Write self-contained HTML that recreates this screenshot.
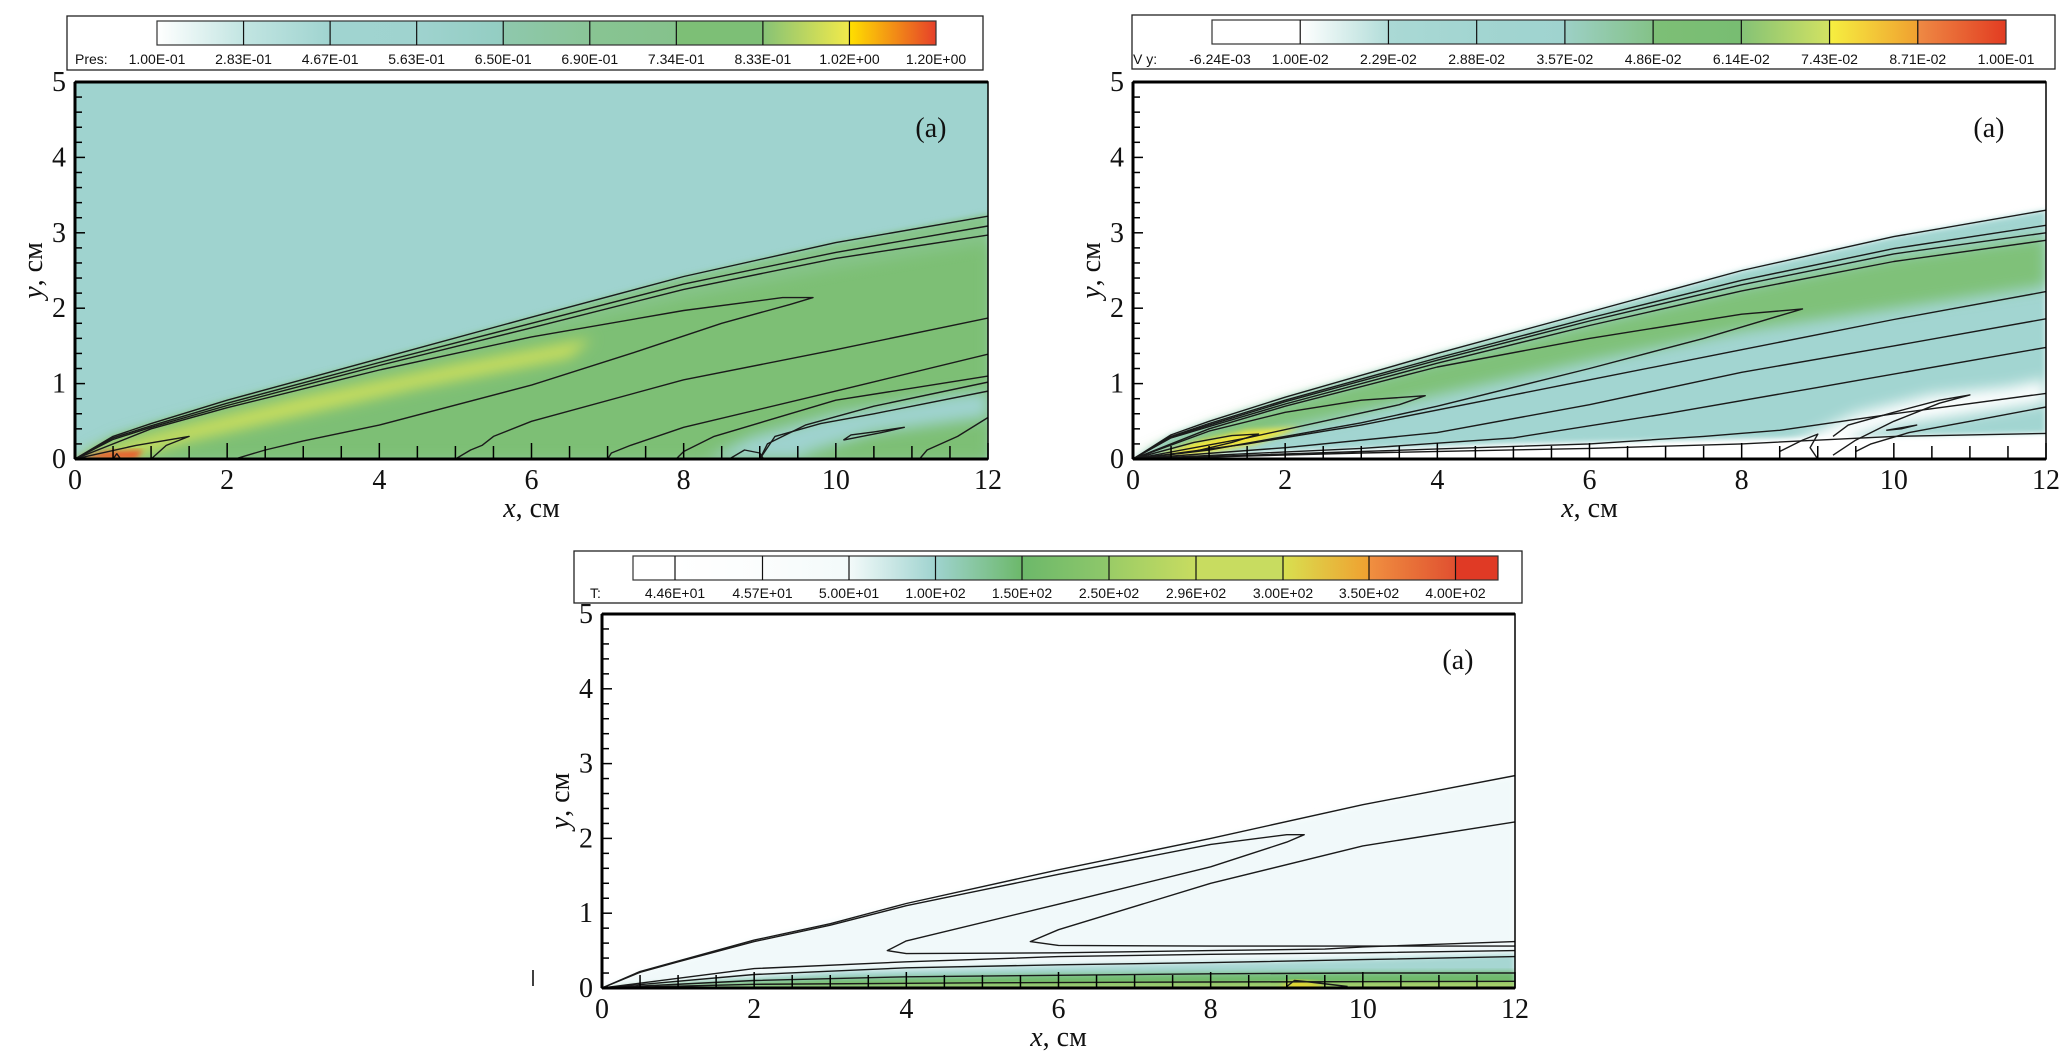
<!DOCTYPE html>
<html><head><meta charset="utf-8">
<style>
html,body{margin:0;padding:0;background:#fff;}
svg{display:block;}
.tk{font-family:"Liberation Serif",serif;font-size:28px;fill:#111;}
.lg{font-family:"Liberation Sans",sans-serif;font-size:14px;fill:#111;}
</style></head>
<body>
<svg id="fig" width="2067" height="1051" viewBox="0 0 2067 1051" xmlns="http://www.w3.org/2000/svg">
<defs>
<filter id="blur" x="-20%" y="-20%" width="140%" height="140%"><feGaussianBlur stdDeviation="7"/></filter>
<filter id="blur2" x="-20%" y="-20%" width="140%" height="140%"><feGaussianBlur stdDeviation="3"/></filter>
</defs>
</svg>
<script>
// ---- data (cm coordinates) ----
const xTicks = [0,2,4,6,8,10,12];
const yTicks = [0,1,2,3,4,5];
const presLabels = ["1.00E-01","2.83E-01","4.67E-01","5.63E-01","6.50E-01","6.90E-01","7.34E-01","8.33E-01","1.02E+00","1.20E+00"];
const presColors = [["#ffffff","#c2e5e2"],["#c2e5e2","#a0d4d0"],["#a0d4d0","#9fd3cf"],["#9fd3cf","#93cdc2"],["#8ec8ad","#8ac597"],["#88c493","#85c28c"],["#7dbf76","#7dbf76"],["#86c276","#f2ea4a"],["#ffe000","#e6402a"]];
const vyLabels = ["-6.24E-03","1.00E-02","2.29E-02","2.88E-02","3.57E-02","4.86E-02","6.14E-02","7.43E-02","8.71E-02","1.00E-01"];
const vyColors = [["#ffffff","#ffffff"],["#ffffff","#b2ddd9"],["#aad9d5","#a2d5d1"],["#a2d5d1","#9fd3cf"],["#9dd0c6","#84c288"],["#7dbf76","#78bd72"],["#84c276","#d2e262"],["#f6ef40","#f0a030"],["#ee8a44","#e23c22"]];
const tLabels = ["4.46E+01","4.57E+01","5.00E+01","1.00E+02","1.50E+02","2.50E+02","2.96E+02","3.00E+02","3.50E+02","4.00E+02"];
const tColors = [["#ffffff","#ffffff"],["#ffffff","#fbfdfd"],["#fbfdfd","#f3fafa"],["#f3fafa","#9fd3cf"],["#9fd3cf","#6cb86a"],["#6cb86a","#8fc86a"],["#9acc66","#c8dc60"],["#c8dc60","#c8dc60"],["#d8e050","#f0a030"],["#f09040","#e05030"],["#e03a25","#e03a25"]];

// panel 1 (pressure)
const p1Wedge = [[0,0],[0.5,0.3],[1,0.47],[2,0.78],[4,1.33],[6,1.88],[8,2.42],[10,2.87],[12,3.25],[12,0],[0,0]];
const p1Yellow = [[0,0],[0.6,0.2],[1.5,0.45],[3,0.82],[5,1.25],[6.8,1.6],[6.5,1.35],[4.5,0.95],[3,0.6],[1.5,0.25],[0.8,0.05]];
const p1Teal = [[8.3,0],[8.9,0.3],[10,0.6],[11.5,0.85],[12,0.9],[12,0.55],[10.5,0.35],[9.7,0.1],[9.5,0]];
const p1Lines = [
 [[0,0],[0.5,0.3],[1,0.47],[2,0.78],[4,1.33],[6,1.88],[8,2.42],[10,2.87],[12,3.22]],
 [[0,0],[0.5,0.28],[1,0.44],[2,0.74],[4,1.28],[6,1.8],[8,2.32],[10,2.74],[12,3.09]],
 [[0,0],[0.5,0.26],[1,0.42],[2,0.71],[4,1.24],[6,1.74],[8,2.25],[10,2.66],[12,2.97]],
 [[0,0],[1,0.4],[2,0.68],[4,1.18],[6,1.62],[8,1.97],[9.3,2.14],[9.7,2.14],[9.4,2.05],[8.5,1.8],[7.4,1.43],[6,0.98],[4,0.45],[3,0.24],[2.5,0.12],[2.1,0]],
 [[5,0],[5.2,0.12],[5.35,0.18],[5.5,0.3],[6,0.5],[8,1.05],[10,1.45],[12,1.87]],
 [[7,0],[7.05,0.08],[7.3,0.18],[8,0.42],[10,0.9],[12,1.39]],
 [[7.9,0],[8,0.1],[8.4,0.3],[10,0.78],[12,1.1]],
 [[9,0],[9.1,0.2],[9.6,0.45],[10.5,0.7],[12,1.02]],
 [[9,0],[9.2,0.3],[9.8,0.47],[10.5,0.6],[12,0.9]],
 [[10.1,0.25],[10.6,0.35],[10.9,0.42],[10.5,0.36],[10.2,0.32],[10.1,0.25]],
 [[8.6,0],[8.8,0.12],[9,0.08],[9.05,0]],
 [[11.1,0],[11.2,0.12],[11.6,0.3],[12,0.55]],
 [[0,0],[0.8,0.18],[1.5,0.3],[1.2,0.18],[1,0]],
 [[0.5,0],[0.55,0.07],[0.6,0]]
];
// panel 2 (Vy)
const p2Wedge = [[0,0],[0.5,0.32],[1,0.5],[2,0.82],[4,1.4],[6,1.95],[8,2.5],[10,2.95],[12,3.3],[12,0.34],[10,0.3],[8,0.26],[5,0.2],[2,0.1],[0,0]];
const p2Green = [[0,0],[1,0.42],[2,0.75],[4,1.3],[6,1.8],[8,2.28],[10,2.68],[12,2.95],[12,2.3],[10,2.0],[8,1.7],[6,1.3],[4,0.85],[2,0.4],[1,0.15]];
const p2Yellow = [[0.3,0.03],[0.8,0.22],[1.5,0.38],[2.2,0.42],[1.6,0.2],[0.8,0.05]];
const p2White = [[8.4,0],[8.9,0.32],[9.5,0.6],[10.5,0.85],[11.5,0.95],[12,1.05],[12,0.75],[11,0.6],[10,0.45],[9.5,0.3],[9.3,0]];
const p2Lines = [
 [[0,0],[0.5,0.32],[1,0.5],[2,0.82],[4,1.4],[6,1.95],[8,2.5],[10,2.95],[12,3.3]],
 [[0,0],[0.5,0.3],[1,0.47],[2,0.78],[4,1.34],[6,1.87],[8,2.37],[10,2.79],[12,3.1]],
 [[0,0],[0.5,0.29],[1,0.45],[2,0.76],[4,1.31],[6,1.83],[8,2.31],[10,2.72],[12,3.0]],
 [[0,0],[0.5,0.28],[1,0.43],[2,0.73],[4,1.27],[6,1.77],[8,2.23],[10,2.62],[12,2.9]],
 [[0,0],[1,0.4],[2,0.7],[4,1.22],[6,1.6],[8,1.92],[8.8,1.99],[8.5,1.9],[7.5,1.6],[6,1.2],[4,0.7],[3,0.48],[2,0.3],[1,0.12],[0,0]],
 [[0,0],[1,0.37],[2,0.62],[3,0.78],[3.84,0.84],[3.5,0.72],[2.5,0.5],[1.5,0.28],[0,0]],
 [[0,0],[0.8,0.22],[1.3,0.31],[1.65,0.33],[1.3,0.22],[0.8,0.1],[0,0]],
 [[0,0],[1.5,0.2],[3,0.45],[5,0.85],[8,1.45],[10,1.85],[12,2.22]],
 [[0,0],[2,0.15],[4,0.35],[6,0.72],[8,1.15],[10,1.5],[12,1.86]],
 [[0,0],[3,0.14],[5,0.28],[7,0.6],[9,0.95],[12,1.48]],
 [[0,0],[3,0.1],[6,0.2],[7.5,0.3],[8.5,0.38],[10,0.6],[12,0.87]],
 [[0,0],[3,0.08],[6,0.14],[8,0.2],[10,0.3],[12,0.34]],
 [[9.5,0.1],[9.7,0.2],[10.2,0.35],[11,0.5],[12,0.69]],
 [[9.2,0.3],[9.4,0.45],[10,0.62],[10.6,0.78],[11,0.85],[10.6,0.74],[10,0.5],[9.5,0.25],[9.2,0.05]],
 [[8.5,0.1],[8.8,0.25],[9,0.33],[8.9,0.15],[9,0]],
 [[9.9,0.38],[10.3,0.45],[10.1,0.4],[9.9,0.38]]
];
// panel 3 (T)
const p3Outer = [[0,0],[0.5,0.22],[1,0.36],[2,0.64],[4,1.13],[6,1.58],[8,2.0],[10,2.45],[12,2.84],[12,0],[0,0]];
const p3Teal = [[0,0],[3,0.22],[6,0.3],[9,0.36],[12,0.45],[12,0],[0,0]];
const p3Green = [[0,0],[3,0.12],[6,0.18],[9,0.2],[12,0.22],[12,0],[0,0]];
const p3Yellow = [[0,0],[4,0.04],[8,0.06],[12,0.08],[12,0],[0,0]];
const p3Lines = [
 [[0,0],[0.5,0.22],[1,0.36],[2,0.64],[3,0.86],[4,1.13],[6,1.58],[8,2.0],[10,2.45],[12,2.84]],
 [[0,0],[0.5,0.21],[1,0.35],[2,0.62],[3,0.84],[4,1.1],[6,1.52],[8,1.92],[9,2.05],[9.23,2.05],[9,1.95],[8,1.62],[6,1.12],[4,0.63],[3.75,0.5],[4,0.46],[6,0.47],[8,0.5],[9.5,0.52],[10,0.55],[12,0.62]],
 [[12,2.22],[10,1.9],[8,1.4],[6,0.78],[5.63,0.62],[6,0.57],[8,0.56],[10,0.56],[12,0.56]],
 [[0,0],[2,0.26],[4,0.35],[6,0.42],[8,0.45],[10,0.47],[12,0.5]],
 [[0,0],[2,0.18],[4,0.27],[6,0.31],[8,0.34],[10,0.38],[12,0.42]],
 [[0,0],[2,0.1],[4,0.15],[6,0.17],[8,0.19],[10,0.2],[12,0.2]],
 [[0,0],[2,0.05],[5,0.07],[8,0.08],[12,0.09]],
 [[9,0.02],[9.1,0.1],[9.3,0.08],[9.8,0.02]]
];

const NS="http://www.w3.org/2000/svg";
const svg=document.getElementById('fig');
function mk(tag,attrs,parent){const e=document.createElementNS(NS,tag);for(const k in attrs)e.setAttribute(k,attrs[k]);(parent||svg).appendChild(e);return e;}

function panel(P){
  const g=mk('g',{});
  
  
  const sx=v=>P.left+v/12*P.w;
  const sy=v=>P.top+P.h-v/5*P.h;
  const pts=a=>a.map(p=>sx(p[0]).toFixed(1)+','+sy(p[1]).toFixed(1)).join(' ');
  const cid='clip'+P.id;
  const cp=mk('clipPath',{id:cid},g);mk('rect',{x:P.left,y:P.top,width:P.w,height:P.h},cp);
  const field=mk('g',{'clip-path':'url(#'+cid+')'},g);
  
  
  mk('rect',{x:P.left,y:P.top,width:P.w,height:P.h,fill:P.bg},field);
  P.fills.forEach(f=>{const e=mk('polygon',{points:pts(f.d),fill:f.c,filter:f.b?'url(#'+f.b+')':''},field);
    
    });
  P.lines.forEach(l=>{const e=mk('polyline',{points:pts(l),fill:'none',stroke:'#1a1a1a','stroke-width':1.4,'stroke-linejoin':'round'},field);
    
    });
  const fr=mk('rect',{x:P.left,y:P.top,width:P.w,height:P.h,fill:'none',stroke:'#000','stroke-width':1.5},g);
  
  
  mk('line',{x1:P.left,y1:P.top,x2:P.left+P.w,y2:P.top,stroke:'#000','stroke-width':3},g);
  mk('line',{x1:P.left,y1:P.top+P.h,x2:P.left+P.w,y2:P.top+P.h,stroke:'#000','stroke-width':3},g);
  mk('line',{x1:P.left,y1:P.top,x2:P.left,y2:P.top+P.h,stroke:'#000','stroke-width':3},g);
  for(let v=0;v<=12.001;v+=0.5){const maj=Math.abs(v-Math.round(v/2)*2)<1e-6;
    mk('line',{x1:sx(v),y1:sy(0),x2:sx(v),y2:sy(0)-(maj?16:13),stroke:'#000','stroke-width':1.5},g);}
  for(let v=0;v<=5.001;v+=0.2){const maj=Math.abs(v-Math.round(v))<1e-6;
    mk('line',{x1:P.left,y1:sy(v),x2:P.left+(maj?10:7),y2:sy(v),stroke:'#000','stroke-width':1.5},g);}
  xTicks.forEach(v=>{const t=mk('text',{x:sx(v),y:P.top+P.h+30,'text-anchor':'middle',class:'tk'},g);t.textContent=v;
    
    });
  yTicks.forEach(v=>{const t=mk('text',{x:P.left-9,y:sy(v)+9,'text-anchor':'end',class:'tk'},g);t.textContent=v;
    
    });
  const xt=mk('text',{x:P.left+P.w/2,y:P.top+P.h+58,'text-anchor':'middle',class:'tk'},g);
  xt.innerHTML='<tspan font-style="italic">x</tspan>, см';
  
  
  const yt=mk('text',{x:0,y:0,'text-anchor':'middle',class:'tk',transform:`translate(${P.left-33},${P.top+P.h/2}) rotate(-90)`},g);
  yt.innerHTML='<tspan font-style="italic">y</tspan>, см';
  
  
  const pl=mk('text',{x:sx(11.25),y:P.top+55,'text-anchor':'middle',class:'tk','font-size':32},g);
  pl.textContent='(a)';
  
  
  const L=P.leg;
  const lg=mk('g',{},g);
  
  
  mk('rect',{x:L.bx,y:L.by,width:L.bw,height:L.bh,fill:'#fff',stroke:'#222','stroke-width':1.3},lg);
  L.segs.forEach((s,i)=>{const gid='lg'+P.id+'_'+i;const gr=mk('linearGradient',{id:gid},lg);
    mk('stop',{offset:0,'stop-color':L.colors[i][0]},gr);mk('stop',{offset:1,'stop-color':L.colors[i][1]},gr);
    mk('rect',{x:s[0],y:L.cy,width:s[1]-s[0],height:L.ch,fill:'url(#'+gid+')'},lg);});
  mk('rect',{x:L.cx0,y:L.cy,width:L.cx1-L.cx0,height:L.ch,fill:'none',stroke:'#333','stroke-width':1.2},lg);
  L.bounds.forEach(b=>mk('line',{x1:b,y1:L.cy,x2:b,y2:L.cy+L.ch,stroke:'#111','stroke-width':1.2},lg));
  const tt=mk('text',{x:L.tx,y:L.ly,class:'lg'},lg);tt.textContent=L.title;
  L.labels.forEach((s,i)=>{const t=mk('text',{x:L.lpos[i],y:L.ly,'text-anchor':'middle',class:'lg'},lg);t.textContent=s;
    
    });
}
function evenBounds(x0,x1,n){const a=[];for(let i=0;i<=n;i++)a.push(x0+(x1-x0)*i/n);return a;}
function segsFrom(b){const s=[];for(let i=0;i<b.length-1;i++)s.push([b[i],b[i+1]]);return s;}

const b1=evenBounds(157,936,9);
panel({id:1,name:'pressure-panel',left:75,top:82,w:913,h:377,bg:'#9fd3cf',
 fills:[{d:p1Wedge,c:'#86c48a',b:'blur2'},{d:p1Wedge.map(p=>[p[0],p[1]*0.88]),c:'#7dbf74',b:'blur'},{d:p1Yellow,c:'#cfe05c',b:'blur'},{d:p1Teal,c:'#9fd3cf',b:'blur'},{d:[[0,0],[0.4,0.1],[0.9,0.12],[0.8,0]],c:'#ec5a2a',b:'blur2'}],
 lines:p1Lines,
 leg:{bx:67,by:16,bw:916,bh:54,cx0:157,cx1:936,cy:21,ch:24,colors:presColors,segs:segsFrom(b1),bounds:b1.slice(1,-1),labels:presLabels,lpos:b1,ly:64,tx:75,title:'Pres:'}});
const b2=evenBounds(1212,2006,9);
panel({id:2,name:'vy-panel',left:1133,top:82,w:913,h:377,bg:'#ffffff',
 fills:[{d:p2Wedge,c:'#a2d5d1',b:'blur2'},{d:p2Green,c:'#7fc179',b:'blur'},{d:p2Yellow,c:'#f2e63a',b:'blur2'},{d:p2White,c:'#ffffff',b:'blur'},{d:[[0,0],[12,0],[12,0.3],[8,0.22],[4,0.12]],c:'#ffffff',b:'blur2'}],
 lines:p2Lines,
 leg:{bx:1132,by:15,bw:923,bh:54,cx0:1212,cx1:2006,cy:20,ch:24,colors:vyColors,segs:segsFrom(b2),bounds:b2.slice(1,-1),labels:vyLabels,lpos:b2.map((v,i)=>i==0?v+8:v),ly:64,tx:1133,title:'V y:'}});
const b3=[675,762.5,849,935.5,1022,1109,1196,1283,1369,1455.5];
panel({id:3,name:'temperature-panel',left:602,top:614,w:913,h:374,bg:'#ffffff',
 fills:[{d:p3Outer,c:'#f1f9fa',b:'blur2'},{d:p3Teal,c:'#a6d6d2',b:'blur2'},{d:p3Green,c:'#6fba6c',b:'blur2'},{d:p3Yellow,c:'#b8d664',b:'blur2'},{d:[[8.9,0],[9.1,0.1],[9.4,0.06],[9.5,0]],c:'#f4d820',b:'blur2'}],
 lines:p3Lines,
 leg:{bx:574,by:551,bw:948,bh:52,cx0:633,cx1:1498,cy:556,ch:24,colors:tColors,segs:segsFrom([633].concat(b3,[1498])),bounds:b3,labels:tLabels,lpos:b3,ly:598,tx:590,title:'T:'}});
const mark=mk('line',{x1:533,y1:970,x2:533,y2:986,stroke:'#000','stroke-width':1.5});


</script>
</body></html>
